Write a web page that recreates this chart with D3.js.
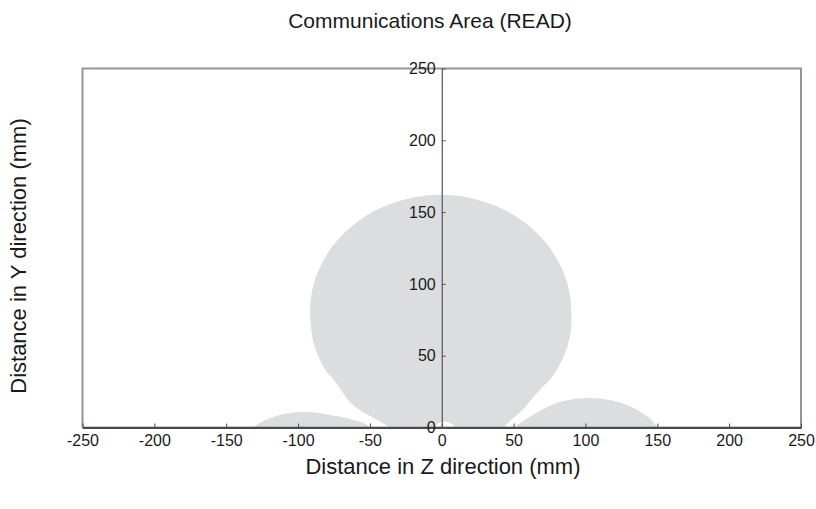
<!DOCTYPE html>
<html>
<head>
<meta charset="utf-8">
<script src="https://cdn.jsdelivr.net/npm/d3@7/dist/d3.min.js"></script>
<style>
  html, body { margin: 0; padding: 0; background: #ffffff; }
  svg { display: block; font-family: "Liberation Sans", Arial, sans-serif; }
</style>
</head>
<body>
<svg id="chart" width="816" height="509"></svg>
<script>
// ---- data ----
const title = "Communications Area (READ)";
const xTitle = "Distance in Z direction (mm)";
const yTitle = "Distance in Y direction (mm)";
const xTicks = [-250, -200, -150, -100, -50, 0, 50, 100, 150, 200, 250];
const yTicks = [0, 50, 100, 150, 200, 250];

// main lobe outline (Z, Y) from bottom-right, counter-clockwise to bottom-left
const mainZ = [43, 49, 56, 62, 68, 75, 80, 85, 88.5, 90, 90.2, 89.5, 87.5, 83.9, 78.6, 71.3, 61.2, 46.6, 35.9, 19.1, -0.8,
               -20.7, -37.5, -48.2, -62.8, -72.9, -80.2, -85.5, -89.1, -91.1, -91.6, -91, -89.5, -86, -81, -75, -70, -65, -57, -46, -36];
const mainY = [0, 6, 12, 19, 26, 33, 40, 50, 60, 70, 80, 90, 100, 110, 120, 130, 140, 150, 155, 160, 162,
               160, 155, 150, 140, 130, 120, 110, 100, 90, 80, 70, 60, 50, 40, 33, 26, 19, 12, 6, 0];

// small white notch at origin
const notchZ = [-4.6, -3, 0, 2.2, 5, 8, 9];
const notchY = [0, 2.5, 3.8, 4, 3.5, 2, 0];

// left side lobe
const leftZ = [-131, -127, -119, -110, -97, -87, -77.7, -70, -63.8, -57, -53, -50];
const leftY = [0, 3, 6.6, 9.4, 10.8, 10.3, 8.7, 7.4, 5.9, 4, 2.4, 0];

// right side lobe
const rightZ = [51, 55, 61.4, 70, 80, 90, 102, 112, 122, 131, 138, 144, 147, 150.5];
const rightY = [0, 3.5, 7.5, 12.5, 17, 19.5, 20.5, 20, 18, 14.8, 11, 7, 4, 0];

// ---- chart ----
const svg = d3.select("#chart");
const x = d3.scaleLinear().domain([-250, 250]).range([82.5, 801]);
const y = d3.scaleLinear().domain([0, 250]).range([427.5, 68.5]);

const fill = "#dcdddf";
const line = d3.line().x(d => x(d[0])).y(d => y(d[1])).curve(d3.curveCatmullRom.alpha(0.5));

function shape(zs, ys, color) {
  const pts = zs.map((z, i) => [z, ys[i]]);
  svg.append("path").attr("d", line(pts) + "Z").attr("fill", color).attr("stroke", "none");
}
shape(mainZ, mainY, fill);
shape(leftZ, leftY, fill);
shape(rightZ, rightY, fill);
shape(notchZ, notchY, "#ffffff");

// frame
svg.append("rect")
  .attr("x", x(-250)).attr("y", y(250))
  .attr("width", x(250) - x(-250)).attr("height", y(0) - y(250))
  .attr("fill", "none").attr("stroke", "#8f979e").attr("stroke-width", 2);

const fmt = d => String(d);

// x axis
const xAxis = svg.append("g").attr("transform", `translate(0,${y(0)})`)
  .call(d3.axisBottom(x).tickValues(xTicks).tickSizeInner(-4).tickSizeOuter(0).tickPadding(7).tickFormat(fmt));
xAxis.select(".domain").attr("stroke", "#4a4a4a").attr("stroke-width", 2);
xAxis.selectAll(".tick line").attr("stroke", "#4a4a4a");
xAxis.selectAll("text").attr("font-size", 16).attr("fill", "#1a1a1a");

// y axis (through Z = 0)
const yAxis = svg.append("g").attr("transform", `translate(${x(0)},0)`)
  .call(d3.axisLeft(y).tickValues(yTicks).tickSizeInner(-4).tickSizeOuter(0).tickPadding(6).tickFormat(fmt));
yAxis.select(".domain").attr("stroke", "#555").attr("stroke-width", 1.2);
yAxis.selectAll(".tick line").attr("stroke", "#555");
yAxis.selectAll("text").attr("font-size", 16).attr("fill", "#1a1a1a");

// titles
svg.append("text").attr("x", 430).attr("y", 27.5).attr("text-anchor", "middle")
  .attr("font-size", 21).attr("fill", "#1a1a1a").text(title);
svg.append("text").attr("x", 443).attr("y", 474).attr("text-anchor", "middle")
  .attr("font-size", 22).attr("fill", "#1a1a1a").text(xTitle);
svg.append("text").attr("transform", `translate(26,256) rotate(-90)`)
  .attr("text-anchor", "middle").attr("font-size", 22).attr("fill", "#1a1a1a").text(yTitle);
</script>
</body>
</html>
